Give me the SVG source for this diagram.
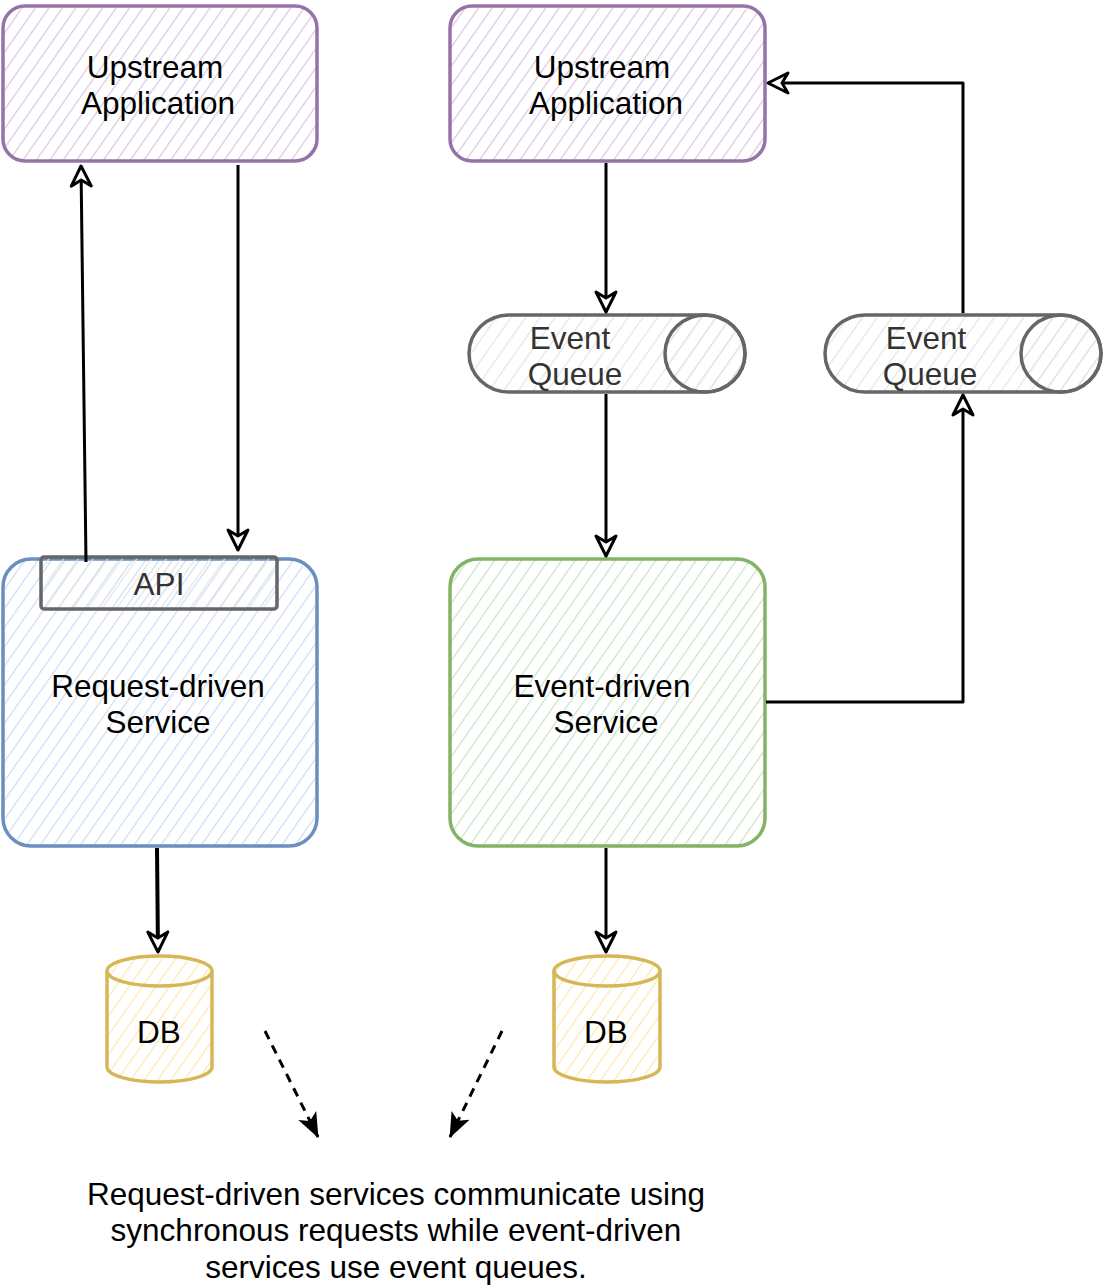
<svg xmlns="http://www.w3.org/2000/svg" width="1104" height="1288" viewBox="0 0 1104 1288">
<defs>
<pattern id="hPurple" patternUnits="userSpaceOnUse" width="11" height="11" patternTransform="rotate(35)"><line x1="0" y1="0" x2="0" y2="11" stroke="#d8c6e2" stroke-width="2.4"/></pattern>
<pattern id="hBlue" patternUnits="userSpaceOnUse" width="11" height="11" patternTransform="rotate(35)"><line x1="0" y1="0" x2="0" y2="11" stroke="#cadcf4" stroke-width="2.4"/></pattern>
<pattern id="hGreen" patternUnits="userSpaceOnUse" width="11" height="11" patternTransform="rotate(35)"><line x1="0" y1="0" x2="0" y2="11" stroke="#c8e2c6" stroke-width="2.4"/></pattern>
<pattern id="hYellow" patternUnits="userSpaceOnUse" width="11" height="11" patternTransform="rotate(35)"><line x1="0" y1="0" x2="0" y2="11" stroke="#fbe8a8" stroke-width="2.4"/></pattern>
<pattern id="hGray" patternUnits="userSpaceOnUse" width="12" height="12" patternTransform="rotate(35)"><line x1="0" y1="0" x2="0" y2="12" stroke="#e3e3e3" stroke-width="2.4"/></pattern>
<marker id="openArrow" viewBox="0 0 26 26" refX="23" refY="13" markerWidth="26" markerHeight="26" orient="auto" markerUnits="userSpaceOnUse"><path d="M3,3 L23,13 L3,23 L9,13 Z" fill="#fff" stroke="#000" stroke-width="3" stroke-linejoin="round"/></marker>
<marker id="solidArrow" viewBox="0 0 26 22" refX="24" refY="11" markerWidth="26" markerHeight="22" orient="auto" markerUnits="userSpaceOnUse"><path d="M0,1 L25,11 L0,21 L6,11 Z" fill="#000"/></marker>
</defs>
<style>
text{font-family:"Liberation Sans",Arial,sans-serif;font-size:31.5px;text-anchor:middle;fill:#000}
.dark{fill:#333}
.conn{fill:none;stroke:#000;stroke-width:3;stroke-linejoin:round}
.purple{stroke:#9673a6;stroke-width:3.5}
.blue{stroke:#6c8ebf;stroke-width:3.5}
.green{stroke:#82b366;stroke-width:3.5}
.gold{stroke:#d6b656;stroke-width:3.5}
.grayS{stroke:#666;stroke-width:3.5}
</style>
<rect width="1104" height="1288" fill="#fff"/>

<g id="upstream-left">
<rect x="3" y="6" width="314" height="155" rx="22" fill="url(#hPurple)" class="purple"/>
<text x="155" y="78">Upstream</text>
<text x="158" y="114">Application</text>
</g>

<g id="upstream-right">
<rect x="450" y="6" width="315" height="155" rx="22" fill="url(#hPurple)" class="purple"/>
<text x="602" y="78">Upstream</text>
<text x="606" y="114">Application</text>
</g>

<g id="request-service">
<rect x="3" y="559" width="314" height="287" rx="28" fill="url(#hBlue)" class="blue"/>
<text x="158" y="697">Request-driven</text>
<text x="158" y="733">Service</text>
</g>

<g id="api">
<rect x="41" y="557" width="236" height="52" rx="3" fill="url(#hGray)" class="grayS"/>
<text class="dark" x="159" y="595">API</text>
</g>

<g id="event-service">
<rect x="450" y="559" width="315" height="287" rx="28" fill="url(#hGreen)" class="green"/>
<text x="602" y="697">Event-driven</text>
<text x="606" y="733">Service</text>
</g>

<g id="event-queue-1">
<path d="M509,315 L705,315 A40,38.5 0 0 1 705,392 L509,392 A40,38.5 0 0 1 509,315 Z" fill="url(#hGray)" class="grayS"/>
<ellipse cx="705" cy="353.5" rx="40" ry="38.5" fill="url(#hGray)" class="grayS"/>
<text class="dark" x="570" y="349">Event</text>
<text class="dark" x="575" y="385">Queue</text>
</g>

<g id="event-queue-2">
<path d="M865,315 L1061,315 A40,38.5 0 0 1 1061,392 L865,392 A40,38.5 0 0 1 865,315 Z" fill="url(#hGray)" class="grayS"/>
<ellipse cx="1061" cy="353.5" rx="40" ry="38.5" fill="url(#hGray)" class="grayS"/>
<text class="dark" x="926" y="349">Event</text>
<text class="dark" x="930" y="385">Queue</text>
</g>

<g id="db-left">
<path d="M107,971 A52.5,15 0 0 1 212,971 L212,1067 A52.5,15 0 0 1 107,1067 Z" fill="url(#hYellow)" class="gold"/>
<path d="M107,971 A52.5,15 0 0 0 212,971" fill="none" class="gold"/>
<text x="159" y="1043">DB</text>
</g>

<g id="db-right">
<path d="M554,971 A53,15 0 0 1 660,971 L660,1067 A53,15 0 0 1 554,1067 Z" fill="url(#hYellow)" class="gold"/>
<path d="M554,971 A53,15 0 0 0 660,971" fill="none" class="gold"/>
<text x="606" y="1043">DB</text>
</g>

<g id="note">
<text x="396" y="1205">Request-driven services communicate using</text>
<text x="396" y="1241">synchronous requests while event-driven</text>
<text x="396" y="1278">services use event queues.</text>
</g>

<g id="connectors">
<path class="conn" d="M86,562 L81,166" marker-end="url(#openArrow)"/>
<path class="conn" d="M238,165 L238,550" marker-end="url(#openArrow)"/>
<path class="conn" d="M606,163 L606,312" marker-end="url(#openArrow)"/>
<path class="conn" d="M606,394 L606,556" marker-end="url(#openArrow)"/>
<path class="conn" d="M766,702 L963,702 L963,395" marker-end="url(#openArrow)"/>
<path class="conn" d="M963,313 L963,83 L768,83" marker-end="url(#openArrow)"/>
<path class="conn" d="M157,848 L158,952" style="stroke-width:4" marker-end="url(#openArrow)"/>
<path class="conn" d="M606,848 L606,952" marker-end="url(#openArrow)"/>
<path class="conn" d="M265,1031 L318,1137" style="stroke-dasharray:9,7" marker-end="url(#solidArrow)"/>
<path class="conn" d="M502,1031 L450,1137" style="stroke-dasharray:9,7" marker-end="url(#solidArrow)"/>
</g>
</svg>
